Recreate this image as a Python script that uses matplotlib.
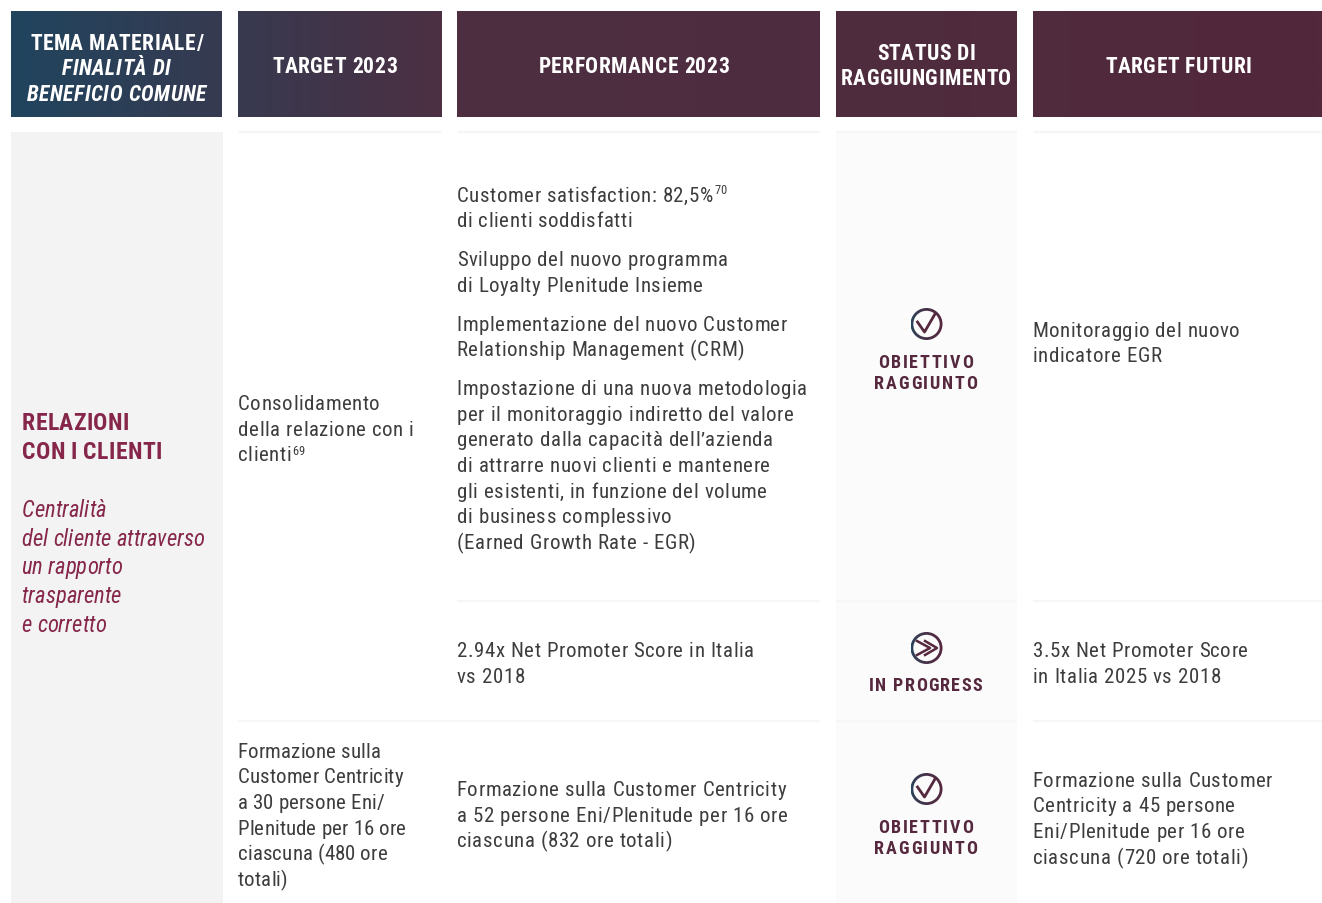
import numpy as np
import matplotlib
matplotlib.use("Agg")
import matplotlib.pyplot as plt
from matplotlib import font_manager as fm
from matplotlib.colors import LinearSegmentedColormap
from matplotlib.font_manager import FontProperties
from matplotlib.ft2font import Kerning, LoadFlags
from matplotlib.patches import Rectangle, Wedge
from matplotlib.text import Text

# table content
header_texts = ["TEMA MATERIALE/", "FINALITÀ DI", "BENEFICIO COMUNE", "TARGET 2023", "PERFORMANCE 2023",
                "STATUS DI", "RAGGIUNGIMENTO", "TARGET FUTURI"]
target_top = ["Consolidamento", "della relazione con i", "clienti"]
target_bottom = ["Formazione sulla", "Customer Centricity", "a 30 persone Eni/",
                 "Plenitude per 16 ore", "ciascuna (480 ore", "totali)"]
performance_texts = [
    "Customer satisfaction: 82,5%", "di clienti soddisfatti",
    "Sviluppo del nuovo programma", "di Loyalty Plenitude Insieme",
    "Implementazione del nuovo Customer", "Relationship Management (CRM)",
    "Impostazione di una nuova metodologia", "per il monitoraggio indiretto del valore",
    "generato dalla capacità dell’azienda", "di attrarre nuovi clienti e mantenere",
    "gli esistenti, in funzione del volume", "di business complessivo",
    "(Earned Growth Rate - EGR)",
    "2.94x Net Promoter Score in Italia", "vs 2018",
    "Formazione sulla Customer Centricity", "a 52 persone Eni/Plenitude per 16 ore",
    "ciascuna (832 ore totali)",
]
future_texts = [
    "Monitoraggio del nuovo", "indicatore EGR",
    "3.5x Net Promoter Score", "in Italia 2025 vs 2018",
    "Formazione sulla Customer", "Centricity a 45 persone",
    "Eni/Plenitude per 16 ore", "ciascuna (720 ore totali)",
]
topic_bold = ["RELAZIONI", "CON I CLIENTI"]
topic_italic = ["Centralità", "del cliente attraverso", "un rapporto", "trasparente", "e corretto"]
status_kinds = ["check", "forward", "check"]
status_labels = [["OBIETTIVO", "RAGGIUNTO"], ["IN PROGRESS"], ["OBIETTIVO", "RAGGIUNTO"]]
footnote_texts = ["69", "70"]

# layout, in pixels of the 1322x904 picture
header_edges = [(11, 222), (238, 442), (457, 820), (836, 1017), (1033, 1322)]
header_x = [116.5, 116.5, 116.5, 334.5, 633.5, 926, 926, 1178.5]
header_y = [50, 75, 101, 73, 73, 60, 85, 73]
header_italic = [False, True, True, False, False, False, False, False]
target_top_y = [410, 436, 461]
target_bottom_y = [758, 783, 809, 835, 860, 886]
performance_y = [202, 227, 266, 292, 331, 356, 395, 421, 446, 472, 498, 523, 549, 657, 683, 796, 822, 847]
future_y = [337, 362, 657, 683, 787, 812, 838, 864]
topic_bold_y = [430, 459]
topic_italic_y = [517, 546, 574, 603, 632]
status_y = [325, 649, 790]
status_label_y = [[368, 389], [691], [833, 854]]
footnote_pos = [(292, 455), (714, 194)]

FONT = "Roboto Condensed"
TEXT_COLOR = "#3d3d3d"
ACCENT = "#85264a"
STATUS_COLOR = "#55283e"
RULE_COLOR = "#f6f6f6"
CX = 926.5


class SpacedText(Text):
    """Text with letter spacing, matplotlib has no option for it."""

    def __init__(self, x, y, s, spacing=0.0, **kwargs):
        super().__init__(x, y, s, **kwargs)
        self.spacing = spacing

    def draw(self, renderer):
        s = self.get_text()
        prop = self.get_fontproperties()
        font = fm.get_font(fm.findfont(prop))
        px_size = prop.get_size_in_points() * renderer.dpi / 72
        font.set_size(prop.get_size_in_points(), renderer.dpi)
        advances = []
        for c, nxt in zip(s, s[1:] + " "):
            adv = font.load_char(ord(c), flags=LoadFlags.NO_SCALE).horiAdvance / font.units_per_EM * px_size
            kern = font.get_kerning(font.get_char_index(ord(c)), font.get_char_index(ord(nxt)), Kerning.UNFITTED) / 64
            advances.append(adv + kern + self.spacing)
        px, py = self.get_transform().transform(self.get_position())
        x = px - (sum(advances) - self.spacing) / 2 if self.get_ha() == "center" else px
        gc = renderer.new_gc()
        gc.set_foreground(self.get_color())
        gc.set_antialiased(True)
        for c, adv in zip(s, advances):
            if c != " ":
                renderer.draw_text(gc, x, renderer.height - py, c, prop, 0, False)
            x += adv
        gc.restore()
        self.stale = False


def put_text(ax, x, y, s, size, color, spacing=0.0, weight="normal", style="normal", ha="left"):
    prop = FontProperties(family=FONT, size=size, weight=weight, style=style)
    t = SpacedText(x, y, s, spacing=spacing, color=color, fontproperties=prop, ha=ha, va="baseline")
    ax.add_artist(t)
    return t


fig = plt.figure(figsize=(13.22, 9.04), dpi=100)
ax = fig.add_axes([0, 0, 1, 1])
ax.axis("off")

grad = LinearSegmentedColormap.from_list("hdr", [(0, "#20455f"), (0.34, "#4d2f42"), (1, "#52283b")])
for x0, x1 in header_edges:
    t = np.linspace(x0 / 1322, x1 / 1322, 200).reshape(1, -1)
    ax.imshow(t, cmap=grad, vmin=0, vmax=1, extent=(x0, x1, 118, 12), aspect="auto", zorder=1)

# body backgrounds and rules
ax.add_patch(Rectangle((11, 133), 212, 771, fc="#f3f3f3", ec="none", zorder=0))
ax.add_patch(Rectangle((836, 133), 181, 771, fc="#fbfbfb", ec="none", zorder=0))
for y, spans in [
    (133, [(238, 442), (457, 820), (836, 1017), (1033, 1322)]),
    (602, [(457, 820), (836, 1017), (1033, 1322)]),
    (722, [(238, 820), (836, 1017), (1033, 1322)]),
]:
    for x0, x1 in spans:
        ax.plot([x0, x1], [y, y], color=RULE_COLOR, lw=1.7, zorder=1, solid_capstyle="butt")

for s, x, y, italic in zip(header_texts, header_x, header_y, header_italic):
    put_text(ax, x, y, s, 15.5, "white", spacing=0.6 if italic else 0.45, weight="bold",
             style="italic" if italic else "normal", ha="center")

for lines, ys, x, spacing in [
    (target_top, target_top_y, 237.7, 0.6),
    (target_bottom, target_bottom_y, 237.7, 0.15),
    (performance_texts, performance_y, 456.7, 0.6),
    (future_texts, future_y, 1032.7, 0.6),
]:
    for s, y in zip(lines, ys):
        put_text(ax, x, y, s, 15, TEXT_COLOR, spacing=spacing)
for s, (x, y) in zip(footnote_texts, footnote_pos):
    put_text(ax, x, y, s, 9, TEXT_COLOR, spacing=0.2)

for s, y in zip(topic_bold, topic_bold_y):
    put_text(ax, 22, y, s, 17, ACCENT, spacing=0.3, weight="bold")
for s, y in zip(topic_italic, topic_italic_y):
    put_text(ax, 21.5, y, s, 16.3, ACCENT, style="italic")

# status icons, ring fades from blue on the left
ring_cmap = LinearSegmentedColormap.from_list("ring", ["#24475f", STATUS_COLOR])
for kind, cy, labels, label_y in zip(status_kinds, status_y, status_labels, status_label_y):
    im = ax.imshow(np.linspace(0, 1, 40).reshape(1, -1) ** 0.5, cmap=ring_cmap, aspect="auto",
                   extent=(CX - 16, CX + 16, cy + 16, cy - 16), zorder=3)
    ring = Wedge((CX, cy), 16, 0, 360, width=2.8, transform=ax.transData)
    im.set_clip_path(ring)
    if kind == "check":
        ax.plot([CX - 9, CX - 2, CX + 8.5], [cy - 2, cy + 8, cy - 10], color=STATUS_COLOR, lw=2, zorder=4)
    else:
        ax.plot([CX - 9.5, CX + 3.5, CX - 9.5], [cy - 7, cy, cy + 7], color=STATUS_COLOR, lw=1.8, zorder=4)
        ax.plot([CX - 1.5, CX + 10.5, CX - 1.5], [cy - 7, cy, cy + 7], color=STATUS_COLOR, lw=1.8, zorder=4)
    spacing = 1.25 if kind == "forward" else 1.75
    for s, y in zip(labels, label_y):
        put_text(ax, CX - 1, y, s, 13, STATUS_COLOR, spacing=spacing, weight="bold", ha="center")

ax.set_xlim(0, 1322)
ax.set_ylim(904, 0)
fig.savefig("out.png", dpi=100)
